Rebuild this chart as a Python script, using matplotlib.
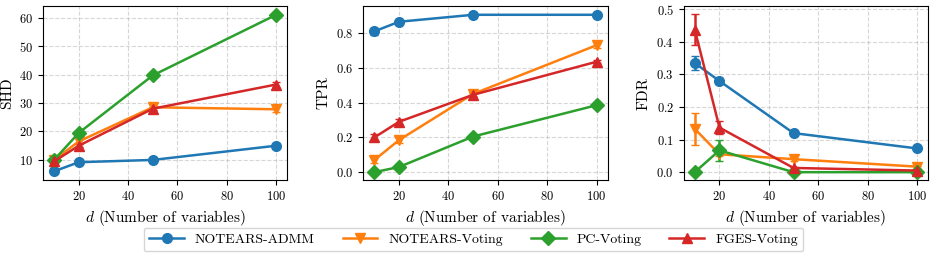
import matplotlib
matplotlib.use("Agg")
import matplotlib.pyplot as plt
from matplotlib.lines import Line2D

plt.rcParams['font.family'] = 'serif'
plt.rcParams['font.serif'] = ['cmr10']
plt.rcParams['mathtext.fontset'] = 'cm'
plt.rcParams['axes.formatter.use_mathtext'] = True

d_values = [10, 20, 50, 100]
methods = ['NOTEARS-ADMM', 'NOTEARS-Voting', 'PC-Voting', 'FGES-Voting']
markers = ['o', 'v', 'D', '^']
colors = ['#1f77b4', '#ff7f0e', '#2ca02c', '#d62728']

# SHD
shd_admm = [6.0, 9.2, 10.0, 15.0]
shd_notears = [10.0, 16.5, 28.5, 27.8]
shd_pc = [10.0, 19.5, 39.7, 61.0]
shd_fges = [9.5, 15.0, 28.0, 36.5]
shd_admm_err = [0.3, 0.4, 0.3, 0.4]
shd_notears_err = [0.5, 0.8, 1.0, 1.0]
shd_pc_err = [0.2, 0.3, 0.3, 0.3]
shd_fges_err = [0.5, 0.6, 0.6, 0.8]

# TPR
tpr_admm = [0.81, 0.865, 0.905, 0.905]
tpr_notears = [0.07, 0.185, 0.45, 0.73]
tpr_pc = [0.0, 0.03, 0.205, 0.385]
tpr_fges = [0.2, 0.29, 0.445, 0.635]
tpr_admm_err = [0.02, 0.01, 0.005, 0.005]
tpr_notears_err = [0.02, 0.015, 0.01, 0.015]
tpr_pc_err = [0.0, 0.005, 0.005, 0.005]
tpr_fges_err = [0.02, 0.015, 0.01, 0.01]

# FDR
fdr_admm = [0.335, 0.28, 0.12, 0.073]
fdr_notears = [0.133, 0.055, 0.04, 0.017]
fdr_pc = [0.0, 0.067, 0.0, 0.0]
fdr_fges = [0.438, 0.137, 0.013, 0.005]
fdr_admm_err = [0.022, 0.01, 0.005, 0.003]
fdr_notears_err = [0.05, 0.005, 0.005, 0.003]
fdr_pc_err = [0.0, 0.032, 0.0, 0.0]
fdr_fges_err = [0.048, 0.02, 0.003, 0.002]

shd_ticks = [10, 20, 30, 40, 50, 60]
tpr_ticks = [0.0, 0.2, 0.4, 0.6, 0.8]
fdr_ticks = [0.0, 0.1, 0.2, 0.3, 0.4, 0.5]

panels = [
    ('SHD', [shd_admm, shd_notears, shd_pc, shd_fges],
     [shd_admm_err, shd_notears_err, shd_pc_err, shd_fges_err], shd_ticks),
    ('TPR', [tpr_admm, tpr_notears, tpr_pc, tpr_fges],
     [tpr_admm_err, tpr_notears_err, tpr_pc_err, tpr_fges_err], tpr_ticks),
    ('FDR', [fdr_admm, fdr_notears, fdr_pc, fdr_fges],
     [fdr_admm_err, fdr_notears_err, fdr_pc_err, fdr_fges_err], fdr_ticks),
]

fig, axes = plt.subplots(1, 3, figsize=(9.34, 2.61), dpi=100)
fig.subplots_adjust(left=0.046, right=0.9936, top=0.977, bottom=0.31, wspace=0.311)

for ax, (name, series, errs, yt) in zip(axes, panels):
    for i, (vals, err) in enumerate(zip(series, errs)):
        ax.errorbar(d_values, vals, yerr=err, marker=markers[i], color=colors[i],
                    markersize=7, linewidth=1.8, capsize=3, label=methods[i])
    ax.set_ylabel(name, fontsize=11)
    ax.set_xlabel('$d$ (Number of variables)', fontsize=11)
    ax.set_xticks([20, 40, 60, 80, 100])
    ax.set_yticks(yt)
    ax.grid(True, linestyle='--', alpha=0.5)
    ax.tick_params(labelsize=9)

handles = [Line2D([], [], color=colors[i], marker=markers[i], markersize=7, linewidth=1.8)
           for i in range(4)]
fig.legend(handles, methods, loc='lower center', ncol=4, fontsize=10,
           bbox_to_anchor=(0.507, 0.01), columnspacing=2.0, handlelength=2.5)

fig.savefig('out.png', dpi=100)
